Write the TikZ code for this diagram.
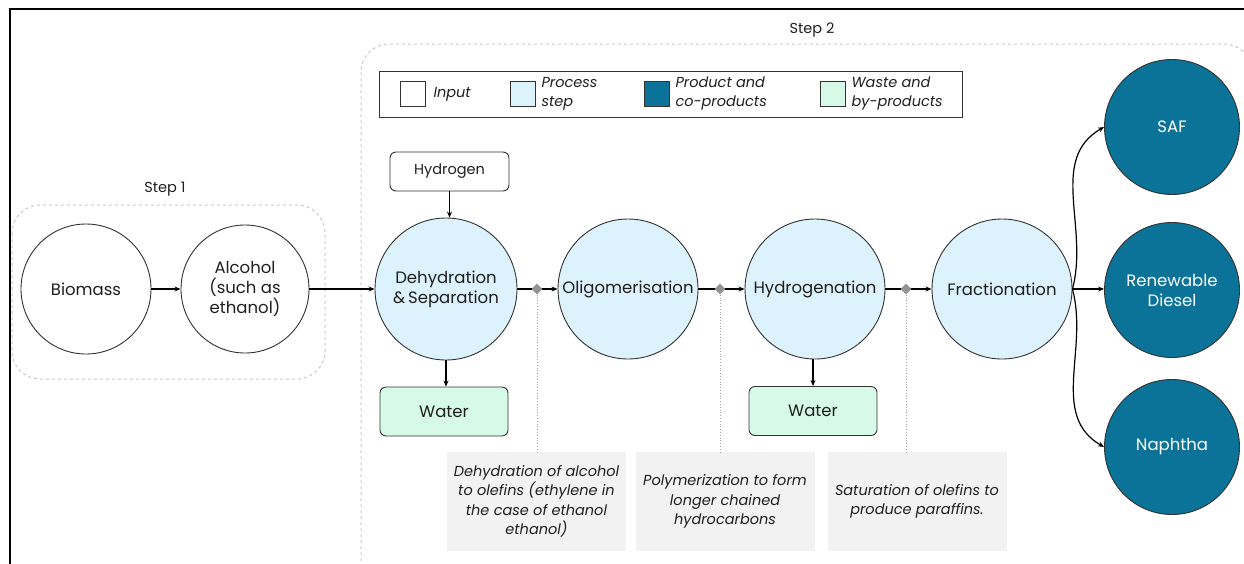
\documentclass[tikz,border=0pt]{standalone}
\usepackage{fontspec}
\setmainfont{Poppins}
\usetikzlibrary{arrows.meta,shapes.geometric}
\definecolor{procfill}{RGB}{220,242,252}
\definecolor{prodfill}{RGB}{11,114,152}
\definecolor{wastefill}{RGB}{214,249,232}
\definecolor{dashgray}{RGB}{200,200,200}
\definecolor{descfill}{RGB}{242,242,242}
\definecolor{edgegray}{RGB}{50,50,50}
\tikzset{
  circ/.style={circle, draw=edgegray, line width=0.9pt, inner sep=0pt, align=center, font=\fontsize{16.5}{20}\selectfont, text=black!88},
  inputc/.style={circ, fill=white},
  procc/.style={circ, fill=procfill},
  prodc/.style={circ, fill=prodfill, text=white},
  rbox/.style={draw=edgegray, line width=0.9pt, rounded corners=6pt, text=black!88},
  wastebox/.style={rbox, fill=wastefill, minimum width=128pt, minimum height=49pt, font=\fontsize{16.5}{20}\selectfont},
  desc/.style={fill=descfill, minimum width=179pt, minimum height=99pt, align=center, font=\fontsize{14.5}{19.5}\selectfont\itshape, text=black!88},
  arr/.style={-{Stealth[length=6pt,width=5pt]}, line width=1.2pt, black},
  stepbox/.style={draw=dashgray, dashed, line width=1pt, rounded corners=28pt},
  dmd/.style={diamond, fill=gray!85, inner sep=0pt, minimum size=11pt},
  vdot/.style={dotted, gray!70, line width=0.8pt},
  legsq/.style={draw=edgegray, line width=0.9pt, minimum size=25pt, inner sep=0pt},
  legtxt/.style={align=left, anchor=west, font=\fontsize{14.5}{19}\selectfont\itshape, text=black!88},
  steplbl/.style={font=\fontsize{14.5}{17}\selectfont, text=black!88},
}
\begin{document}
\begin{tikzpicture}[x=1pt,y=-1pt]
\useasboundingbox (0,0) rectangle (1244,563);
% frame
\draw[line width=2pt] (10,570) -- (10,9) -- (1250,9);
% step boxes
\draw[stepbox] (12,205) rectangle (325,379);
\node[steplbl] (s1) at (165,189) {Step 1};
\draw[stepbox] (361,44) rectangle (1252,620);
\node[steplbl] (s2) at (812,30) {Step 2};
% legend
\node[draw=edgegray, line width=0.9pt, minimum width=583pt, minimum height=46pt, inner sep=0pt] (leg) at (670.5,94) {};
\node[legsq, fill=white] (lq1) at (413,94) {};
\node[legtxt] (lt1) at (430,94) {Input};
\node[legsq, fill=procfill] (lq2) at (523,94) {};
\node[legtxt] (lt2) at (538,94) {Process\\step};
\node[legsq, fill=prodfill] (lq3) at (657,94) {};
\node[legtxt] (lt3) at (672,94) {Product and\\co-products};
\node[legsq, fill=wastefill] (lq4) at (833,94) {};
\node[legtxt] (lt4) at (848,94) {Waste and\\by-products};
% nodes
\node[inputc, minimum size=130pt] (bio) at (86,289) {Biomass};
\node[inputc, minimum size=128pt] (alc) at (245,289) {Alcohol\\(such as\\ethanol)};
\node[procc, minimum size=142pt] (deh) at (446,289) {Dehydration\\\&\,Separation};
\node[procc, minimum size=140pt] (oli) at (628,289) {Oligomerisation};
\node[procc, minimum size=140pt] (hyd) at (815,289) {Hydrogenation};
\node[procc, minimum size=140pt] (fra) at (1002,289) {Fractionation};
\node[prodc, minimum size=135pt] (saf) at (1172,127) {SAF};
\node[prodc, minimum size=135pt] (rd) at (1172,290) {Renewable\\Diesel};
\node[prodc, minimum size=135pt] (nap) at (1172,447) {Naphtha};
\node[rbox, fill=white, minimum width=119pt, minimum height=39pt, font=\fontsize{14.5}{17}\selectfont] (h2) at (449.5,171.5) {Hydrogen};
\node[wastebox] (w1) at (444,411.5) {Water};
\node[wastebox] (w2) at (813,411) {Water};
\node[desc] (d1) at (536.5,501.5) {Dehydration of alcohol\\to olefins (ethylene in\\the case of ethanol\\ethanol)};
\node[desc] (d2) at (725,501.5) {Polymerization to form\\longer chained\\hydrocarbons};
\node[desc] (d3) at (917,501.5) {Saturation of olefins to\\produce paraffins.};
% connectors
\draw[arr] (bio) -- (alc);
\draw[arr] (alc) -- (deh);
\draw[arr] (h2.south) -- (h2.south |- deh.north);
\draw[arr] (deh.south) -- (deh.south |- w1.north);
\draw[arr] (hyd.south -| w2.north) -- (w2.north);
\draw[arr] (deh) -- (oli);
\draw[arr] (oli) -- (hyd);
\draw[arr] (hyd) -- (fra);
\node[dmd] (m1) at (537,289) {};
\node[dmd] (m2) at (720,289) {};
\node[dmd] (m3) at (906,289) {};
\draw[vdot] (m1.south) -- (m1 |- d1.north);
\draw[vdot] (m2.south) -- (m2 |- d2.north);
\draw[vdot] (m3.south) -- (m3 |- d3.north);
\draw[arr] (fra.east) to[out=75, in=210] (saf.west);
\draw[arr] (fra.east) -- (rd.west |- fra.east);
\draw[arr] (fra.east) to[out=-75, in=150] (nap.west);
\end{tikzpicture}
\end{document}
